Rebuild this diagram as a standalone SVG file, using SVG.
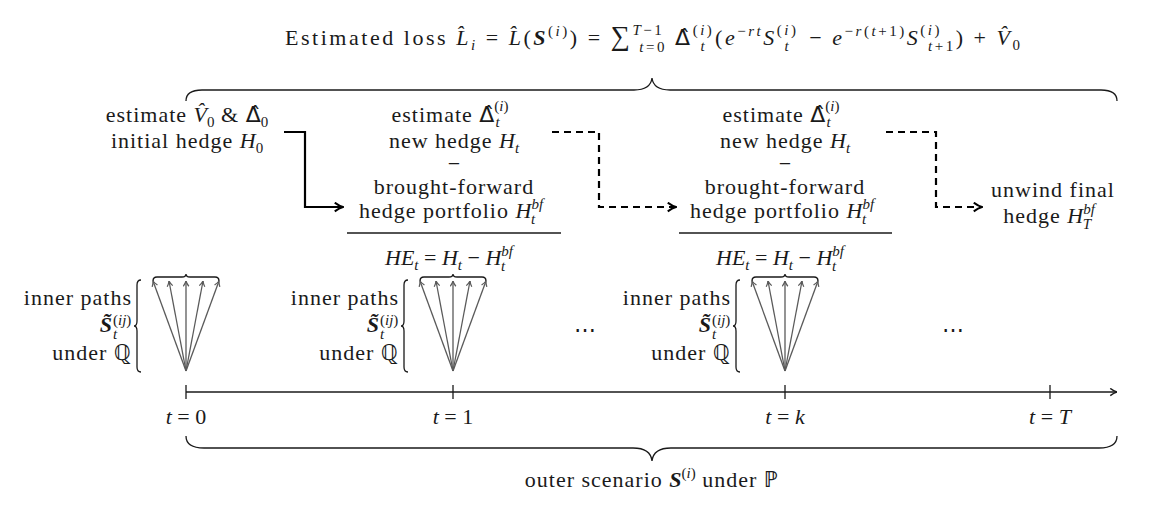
<svg xmlns="http://www.w3.org/2000/svg" width="1162" height="514" viewBox="0 0 1162 514" font-family="'Liberation Serif', 'Noto Sans', serif">
<defs>
<style>
.t{font-family:'Liberation Serif','Noto Sans',serif;font-size:22px;fill:#1a1a1a}
.r{letter-spacing:1px}
.i{font-style:italic;letter-spacing:0}
.b{font-weight:bold;font-style:italic;letter-spacing:0}
.s{font-size:15px;letter-spacing:0}
.g{font-family:'DejaVu Sans','Noto Sans',sans-serif;letter-spacing:0}
.ln{fill:none;stroke:#1a1a1a;stroke-width:1.3}
.fan{fill:none;stroke:#5a5a5a;stroke-width:1.3}
.conn{fill:none;stroke:#000;stroke-width:2.2}
.dash{stroke-dasharray:7 5}
</style>
<marker id="ahb" viewBox="0 0 10 10" refX="9.5" refY="5" markerWidth="11" markerHeight="11" markerUnits="userSpaceOnUse" orient="auto"><path d="M2,1 Q6,4 9.5,5 Q6,6 2,9" fill="none" stroke="#000" stroke-width="1.8"/></marker>
<marker id="ahf" viewBox="0 0 10 10" refX="9.5" refY="5" markerWidth="7" markerHeight="7" markerUnits="userSpaceOnUse" orient="auto"><path d="M2,1 Q6,4 9.5,5 Q6,6 2,9" fill="none" stroke="#5a5a5a" stroke-width="1.8"/></marker>
<marker id="aha" viewBox="0 0 10 10" refX="9.5" refY="5" markerWidth="9" markerHeight="9" markerUnits="userSpaceOnUse" orient="auto"><path d="M2,1 Q6,4 9.5,5 Q6,6 2,9" fill="none" stroke="#1a1a1a" stroke-width="1.6"/></marker>
</defs>
<rect width="1162" height="514" fill="#fff"/>

<g id="title">
<text class="t" x="285" y="45" textLength="735" lengthAdjust="spacing">Estimated loss <tspan class="i">L̂</tspan><tspan class="s i" dy="5">i</tspan><tspan dy="-5"> = </tspan><tspan class="i">L̂</tspan>(<tspan class="b">S</tspan><tspan class="s" dy="-9">(<tspan class="i">i</tspan>)</tspan><tspan dy="9">) = </tspan><tspan style="font-size:27px">∑</tspan><tspan class="s" dy="-10"><tspan class="i">T</tspan>−1</tspan><tspan class="s" dx="-25" dy="17"><tspan class="i">t</tspan>=0</tspan><tspan class="g" dy="-7" dx="8">Δ̂</tspan><tspan class="s" dy="-10">(<tspan class="i">i</tspan>)</tspan><tspan class="s i" dx="-14" dy="16">t</tspan><tspan dy="-6" dx="8">(</tspan><tspan class="i">e</tspan><tspan class="s" dy="-9">−<tspan class="i">rt</tspan></tspan><tspan class="i" dy="9">S</tspan><tspan class="s" dy="-10">(<tspan class="i">i</tspan>)</tspan><tspan class="s i" dx="-14" dy="16">t</tspan><tspan dy="-6" dx="10"> − </tspan><tspan class="i">e</tspan><tspan class="s" dy="-9">−<tspan class="i">r</tspan>(<tspan class="i">t</tspan>+1)</tspan><tspan class="i" dy="9">S</tspan><tspan class="s" dy="-10">(<tspan class="i">i</tspan>)</tspan><tspan class="s" dx="-14" dy="16"><tspan class="i">t</tspan>+1</tspan><tspan dy="-6">) + </tspan><tspan class="i">V̂</tspan><tspan class="s" dy="5">0</tspan></text>
</g>

<g id="braces">
<path class="ln" d="M186,101 C186,94 191,90 202,90 L634,90 C645,90 651,86 652,78 C653,86 659,90 670,90 L1101,90 C1112,90 1117,94 1117,101"/>
<path class="ln" d="M186,436 C186,443 191,448 204,448 L633,448 C645,448 651,452 652,461 C653,452 659,448 671,448 L1099,448 C1112,448 1117,443 1117,436"/>
</g>

<g id="step0">
<text class="t r" x="187" y="122" text-anchor="middle">estimate <tspan class="i">V̂</tspan><tspan class="s" dy="5">0</tspan><tspan dy="-5"> &amp; </tspan><tspan class="g">Δ̂</tspan><tspan class="s" dy="5">0</tspan></text>
<text class="t r" x="187" y="148" text-anchor="middle">initial hedge <tspan class="i">H</tspan><tspan class="s" dy="5">0</tspan></text>
</g>

<g id="step1">
<text class="t r" x="450" y="122" text-anchor="middle">estimate <tspan class="g">Δ̂</tspan><tspan class="s" dy="-11">(<tspan class="i">i</tspan>)</tspan><tspan class="s i" dx="-13" dy="16">t</tspan></text>
<text class="t r" x="454" y="148" text-anchor="middle">new hedge <tspan class="i">H</tspan><tspan class="s i" dy="5">t</tspan></text>
<text class="t" x="454" y="171" text-anchor="middle">−</text>
<text class="t r" x="454" y="194" text-anchor="middle">brought-forward</text>
<text class="t r" x="451" y="218" text-anchor="middle">hedge portfolio <tspan class="i">H</tspan><tspan class="s i" dy="-9">bf</tspan><tspan class="s i" dx="-12" dy="15">t</tspan></text>
<line class="ln" x1="347" y1="233" x2="561" y2="233"/>
<text class="t" x="449" y="265" text-anchor="middle"><tspan class="i">HE</tspan><tspan class="s i" dy="5">t</tspan><tspan dy="-5"> = </tspan><tspan class="i">H</tspan><tspan class="s i" dy="5">t</tspan><tspan dy="-5"> − </tspan><tspan class="i">H</tspan><tspan class="s i" dy="-9">bf</tspan><tspan class="s i" dx="-12" dy="15">t</tspan></text>
</g>

<g id="stepk">
<text class="t r" x="781" y="122" text-anchor="middle">estimate <tspan class="g">Δ̂</tspan><tspan class="s" dy="-11">(<tspan class="i">i</tspan>)</tspan><tspan class="s i" dx="-13" dy="16">t</tspan></text>
<text class="t r" x="785" y="148" text-anchor="middle">new hedge <tspan class="i">H</tspan><tspan class="s i" dy="5">t</tspan></text>
<text class="t" x="785" y="171" text-anchor="middle">−</text>
<text class="t r" x="785" y="194" text-anchor="middle">brought-forward</text>
<text class="t r" x="782" y="218" text-anchor="middle">hedge portfolio <tspan class="i">H</tspan><tspan class="s i" dy="-9">bf</tspan><tspan class="s i" dx="-12" dy="15">t</tspan></text>
<line class="ln" x1="679" y1="233" x2="892" y2="233"/>
<text class="t" x="780" y="265" text-anchor="middle"><tspan class="i">HE</tspan><tspan class="s i" dy="5">t</tspan><tspan dy="-5"> = </tspan><tspan class="i">H</tspan><tspan class="s i" dy="5">t</tspan><tspan dy="-5"> − </tspan><tspan class="i">H</tspan><tspan class="s i" dy="-9">bf</tspan><tspan class="s i" dx="-12" dy="15">t</tspan></text>
</g>

<g id="unwind">
<text class="t r" x="1053" y="197" text-anchor="middle">unwind final</text>
<text class="t r" x="1049" y="223" text-anchor="middle">hedge <tspan class="i">H</tspan><tspan class="s i" dy="-9">bf</tspan><tspan class="s i" dx="-12" dy="15">T</tspan></text>
</g>

<g id="fan0">
<g class="fan" marker-end="url(#ahf)">
<line x1="186" y1="371" x2="153" y2="281"/><line x1="186" y1="371" x2="169" y2="281"/><line x1="186" y1="371" x2="186" y2="281"/><line x1="186" y1="371" x2="203" y2="281"/><line x1="186" y1="371" x2="219" y2="281"/>
</g>
<path class="ln" d="M153,281 Q153,277 157,277 L182,277 Q186,277 186,274 Q186,277 190,277 L215,277 Q219,277 219,281"/>
<path class="ln" d="M141,280 Q137,280 137,285 L137,321 Q137,326 134,326 Q137,326 137,331 L137,367 Q137,372 141,372"/>
<text class="t r" x="132" y="305" text-anchor="end">inner paths</text>
<text class="t" x="112" y="332" text-anchor="end"><tspan class="b">S̃</tspan></text>
<text class="t s" x="113" y="325">(<tspan class="i">ij</tspan>)</text>
<text class="t s i" x="113" y="339">t</text>
<text class="t r" x="132" y="360" text-anchor="end">under ℚ</text>
</g>

<g id="fan1">
<g class="fan" marker-end="url(#ahf)">
<line x1="453" y1="371" x2="420" y2="281"/><line x1="453" y1="371" x2="436" y2="281"/><line x1="453" y1="371" x2="453" y2="281"/><line x1="453" y1="371" x2="470" y2="281"/><line x1="453" y1="371" x2="486" y2="281"/>
</g>
<path class="ln" d="M420,281 Q420,277 424,277 L449,277 Q453,277 453,274 Q453,277 457,277 L482,277 Q486,277 486,281"/>
<path class="ln" d="M408,280 Q404,280 404,285 L404,321 Q404,326 401,326 Q404,326 404,331 L404,367 Q404,372 408,372"/>
<text class="t r" x="399" y="305" text-anchor="end">inner paths</text>
<text class="t" x="379" y="332" text-anchor="end"><tspan class="b">S̃</tspan></text>
<text class="t s" x="380" y="325">(<tspan class="i">ij</tspan>)</text>
<text class="t s i" x="380" y="339">t</text>
<text class="t r" x="399" y="360" text-anchor="end">under ℚ</text>
</g>

<g id="fank">
<g class="fan" marker-end="url(#ahf)">
<line x1="785" y1="371" x2="752" y2="281"/><line x1="785" y1="371" x2="768" y2="281"/><line x1="785" y1="371" x2="785" y2="281"/><line x1="785" y1="371" x2="802" y2="281"/><line x1="785" y1="371" x2="818" y2="281"/>
</g>
<path class="ln" d="M752,281 Q752,277 756,277 L781,277 Q785,277 785,274 Q785,277 789,277 L814,277 Q818,277 818,281"/>
<path class="ln" d="M740,280 Q736,280 736,285 L736,321 Q736,326 733,326 Q736,326 736,331 L736,367 Q736,372 740,372"/>
<text class="t r" x="731" y="305" text-anchor="end">inner paths</text>
<text class="t" x="711" y="332" text-anchor="end"><tspan class="b">S̃</tspan></text>
<text class="t s" x="712" y="325">(<tspan class="i">ij</tspan>)</text>
<text class="t s i" x="712" y="339">t</text>
<text class="t r" x="731" y="360" text-anchor="end">under ℚ</text>
</g>

<g id="dots">
<text class="t" x="585" y="337" text-anchor="middle">⋯</text>
<text class="t" x="953" y="337" text-anchor="middle">⋯</text>
</g>

<g id="axis">
<path class="ln" marker-end="url(#aha)" d="M186,392 L1117,392"/>
<path class="ln" d="M186,385 V399 M453,385 V399 M785,385 V399 M1050,385 V399"/>
<text class="t" x="186" y="424" text-anchor="middle"><tspan class="i">t</tspan> = 0</text>
<text class="t" x="453" y="424" text-anchor="middle"><tspan class="i">t</tspan> = 1</text>
<text class="t" x="785" y="424" text-anchor="middle"><tspan class="i">t</tspan> = <tspan class="i">k</tspan></text>
<text class="t" x="1050" y="424" text-anchor="middle"><tspan class="i">t</tspan> = <tspan class="i">T</tspan></text>
</g>

<g id="outer">
<text class="t r" x="652" y="487" text-anchor="middle">outer scenario <tspan class="b">S</tspan><tspan class="s" dy="-9">(<tspan class="i">i</tspan>)</tspan><tspan dy="9"> under ℙ</tspan></text>
</g>

<g id="connectors">
<path class="conn" marker-end="url(#ahb)" d="M284,132 H305 V207 H343"/>
<path class="conn dash" marker-end="url(#ahb)" d="M552,132 H599 V207 H676"/>
<path class="conn dash" marker-end="url(#ahb)" d="M886,132 H936 V207 H982"/>
</g>
</svg>
